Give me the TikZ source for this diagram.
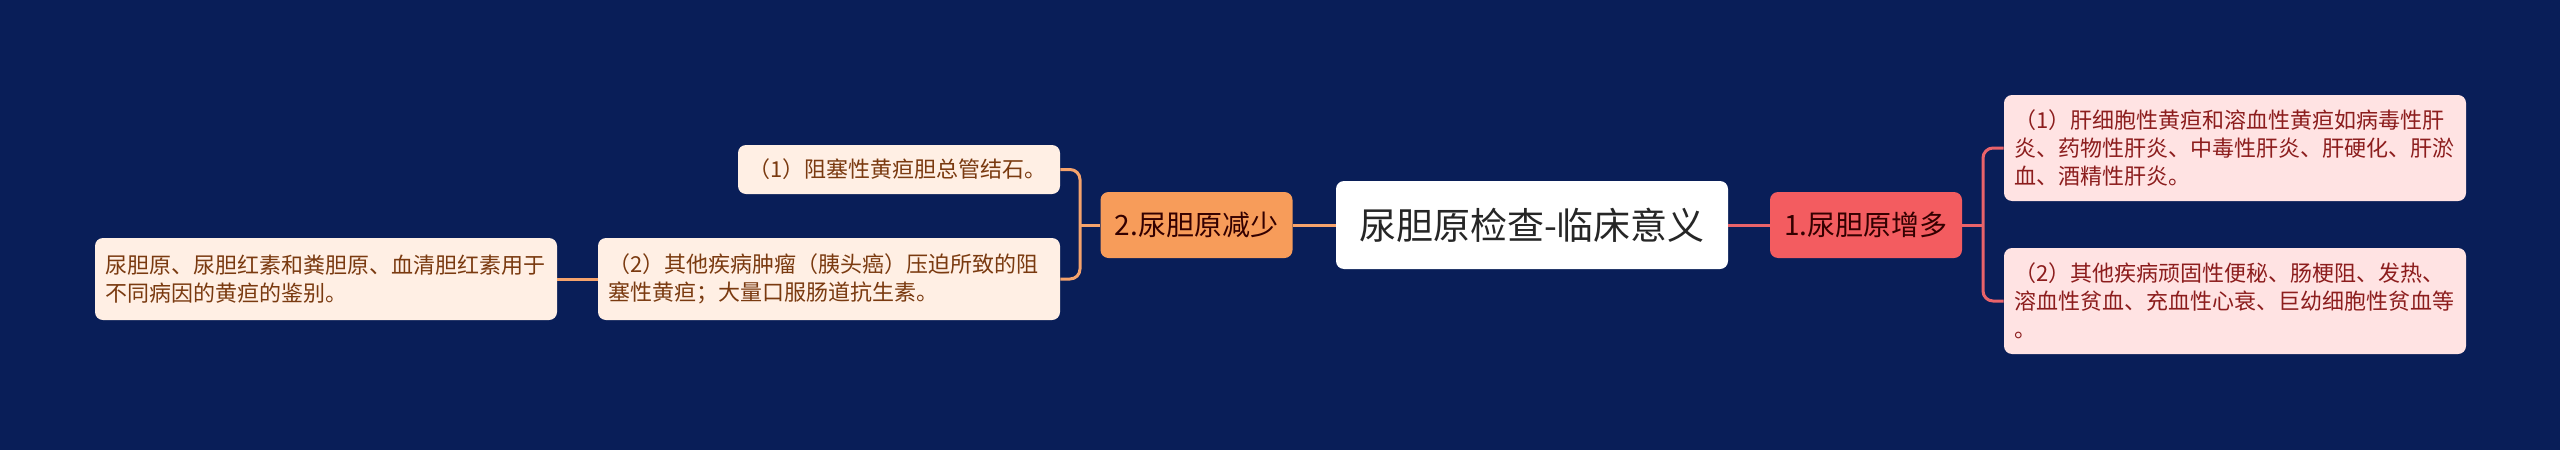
\documentclass[tikz,border=0pt]{standalone}
\usepackage{fontspec}
\usepackage{tikz}
\usetikzlibrary{calc}
\newfontfamily\cjk{Noto Sans CJK SC}
\definecolor{bgnavy}{RGB}{9,30,88}
\definecolor{incred}{RGB}{243,92,96}
\definecolor{decorange}{RGB}{247,156,90}
\definecolor{incline}{RGB}{233,99,106}
\definecolor{decline}{RGB}{245,163,108}
\definecolor{incleaf}{RGB}{255,227,227}
\definecolor{decleaf}{RGB}{255,239,228}
\definecolor{inctext}{RGB}{140,29,29}
\definecolor{dectext}{RGB}{122,58,16}
\tikzset{root/.style={rounded corners=4pt, fill=white, text=black!85, font=\cjk\fontsize{18.5pt}{22pt}\selectfont, minimum width=196pt, minimum height=44pt, inner sep=0pt}}
\tikzset{branch/.style={rounded corners=4pt, text=black!80!red, font=\cjk\fontsize{14pt}{17pt}\selectfont, minimum width=96pt, minimum height=33pt, inner sep=0pt}}
\tikzset{leaf/.style={rounded corners=4pt, font=\cjk\fontsize{11pt}{14pt}\selectfont, align=left, text width=221pt, inner xsep=5pt, inner ysep=0pt}}
\tikzset{incleaf/.style={leaf, fill=incleaf, text=inctext}}
\tikzset{decleaf/.style={leaf, fill=decleaf, text=dectext}}
\tikzset{link/.style={line width=1.5pt}}

\begin{document}
\begin{tikzpicture}[x=0.5pt,y=-0.5pt]
  \useasboundingbox[fill=bgnavy] (0,0) rectangle (2560,450);
  \node[root] (center) at (1532,225) {尿胆原检查-临床意义};
  \node[branch, fill=incred] (inc) at (1866,225) {1.尿胆原增多};
  \node[branch, fill=decorange] (dec) at (1196.5,225) {2.尿胆原减少};
  \node[incleaf, minimum height=53pt] (inc1) at (2235,148)
    {（1）肝细胞性黄疸和溶血性黄疸如病毒性肝\\炎、药物性肝炎、中毒性肝炎、肝硬化、肝淤\\血、酒精性肝炎。};
  \node[incleaf, minimum height=53pt] (inc2) at (2235,301)
    {（2）其他疾病顽固性便秘、肠梗阻、发热、\\溶血性贫血、充血性心衰、巨幼细胞性贫血等\\。};
  \node[decleaf, text width=151pt, minimum height=24.5pt] (dec1) at (899,169.5)
    {（1）阻塞性黄疸胆总管结石。};
  \node[decleaf, minimum height=41pt] (dec2) at (829,279)
    {（2）其他疾病肿瘤（胰头癌）压迫所致的阻\\塞性黄疸；大量口服肠道抗生素。};
  \node[decleaf, minimum height=41pt] (dec2a) at (326,279)
    {尿胆原、尿胆红素和粪胆原、血清胆红素用于\\不同病因的黄疸的鉴别。};
  \coordinate (incfork) at (1983,225);
  \coordinate (decfork) at (1080,225);
  % right side
  \draw[link, incline] (center) -- (inc);
  \draw[link, incline] (inc) -- (incfork);
  \draw[link, incline, rounded corners=5pt] (inc1.west) -| (incfork) |- (inc2.west);
  % left side
  \draw[link, decline] (center) -- (dec);
  \draw[link, decline] (dec) -- (decfork);
  \draw[link, decline, rounded corners=5pt] (dec1.east) -| (decfork) |- (dec2.east);
  \draw[link, decline] (dec2) -- (dec2a);
\end{tikzpicture}
\end{document}
